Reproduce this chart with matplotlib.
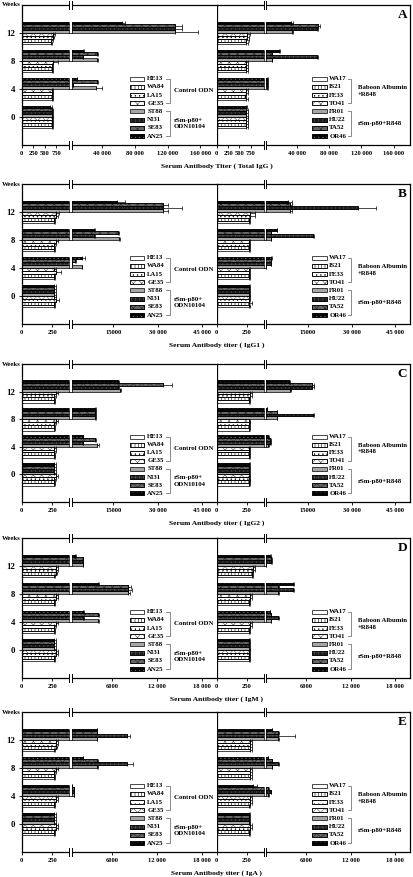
import numpy as np
import matplotlib
matplotlib.use('Agg')
import matplotlib.pyplot as plt
from matplotlib.patches import Rectangle
import matplotlib.transforms as mtransforms

plt.rcParams['font.family'] = ['Liberation Serif', 'DejaVu Serif']
plt.rcParams['font.weight'] = 'bold'
plt.rcParams['hatch.linewidth'] = 0.4

# ---------------- data ----------------
weeks = [0, 4, 8, 12]
week_labels = ['0', '4', '8', '12']
left_animals = ['HE13', 'WA84', 'LA15', 'GE35', 'ST88', 'NI31', 'SE83', 'AN25']
right_animals = ['WA17', 'IS21', 'FE33', 'TO41', 'FR01', 'HU22', 'TA52', 'OR46']
left_groups = ['Control ODN', 'rSm-p80+\nODN10104']
right_groups = ['Baboon Albumin\n+R848', 'rSm-p80+R848']
panel_letters = ['A', 'B', 'C', 'D', 'E']
xlabels = ['Serum Antibody Titer ( Total IgG )', 'Serum Antibody titer ( IgG1 )',
           'Serum Antibody titer ( IgG2 )', 'Serum Antibody titer ( IgM )',
           'Serum Antibody titer ( IgA )']

# axis breaks: lower segment [0, L], upper segment [L, U]
A_ticks = [0, 250, 500, 750, 40000, 80000, 120000, 160000]
A_ticklabels = ['0', '250', '500', '750', '40 000', '80 000', '120 000', '160 000']
BC_ticks = [0, 250, 15000, 30000, 45000]
BC_ticklabels = ['0', '250', '15000', '30 000', '45 000']
DE_ticks = [0, 250, 6000, 12000, 18000]
DE_ticklabels = ['0', '250', '6000', '12 000', '18 000']

# values per animal at weeks 0,4,8,12 ; errors likewise
A_left = [[650, 650, 650, 640], [650, 650, 650, 640], [650, 650, 650, 680], [650, 650, 680, 690],
          [650, 32600, 33200, 129000], [650, 4200, 16500, 129000], [650, 33200, 33200, 129000],
          [620, 8700, 16000, 63800]]
A_left_err = [[40, 30, 40, 20], [40, 30, 40, 30], [30, 30, 40, 30], [40, 30, 100, 40],
              [40, 6500, 1000, 28500], [30, 500, 500, 8000], [40, 1300, 1000, 8000],
              [40, 500, 1200, 4000]]
A_right = [[650, 650, 650, 650], [650, 620, 650, 650], [650, 650, 650, 660], [650, 650, 650, 660],
           [650, 3900, 9300, 34700], [650, 3900, 65800, 65100], [650, 3900, 9300, 66000],
           [640, 3900, 18300, 33100]]
A_right_err = [[30, 30, 30, 40], [30, 30, 30, 50], [40, 40, 40, 50], [40, 40, 40, 80],
               [40, 300, 500, 1500], [40, 300, 500, 1500], [40, 300, 600, 2800],
               [30, 300, 1000, 2800]]

B_left = [[264, 264, 264, 264], [264, 264, 264, 264], [279, 279, 264, 279], [264, 264, 279, 279],
          [264, 4250, 16900, 31900], [264, 850, 8520, 31900], [264, 1960, 16650, 31900],
          [264, 4250, 8520, 16100]]
B_left_err = [[10, 10, 10, 10], [10, 10, 10, 10], [30, 45, 15, 15], [15, 15, 15, 30],
              [15, 200, 300, 1700], [15, 100, 200, 6300], [15, 200, 300, 1700],
              [15, 1000, 200, 2800]]
B_right = [[264, 264, 264, 264], [264, 264, 264, 264], [264, 264, 264, 279], [264, 264, 264, 279],
           [264, 760, 2480, 8970], [264, 2350, 16950, 32300], [264, 2350, 2480, 8970],
           [264, 2480, 4420, 8180]]
B_right_err = [[15, 10, 10, 10], [30, 10, 10, 10], [15, 15, 15, 40], [15, 15, 15, 40],
               [15, 100, 100, 700], [15, 100, 200, 6000], [15, 150, 100, 700],
               [15, 300, 100, 1600]]

C_left = [[264, 264, 264, 264], [264, 264, 264, 264], [264, 264, 264, 264], [279, 264, 279, 279],
          [264, 9450, 8760, 17200], [264, 4580, 8760, 16650], [264, 8760, 8760, 31900],
          [264, 4580, 8760, 16650]]
C_left_err = [[10, 10, 10, 10], [10, 10, 10, 10], [15, 15, 15, 15], [15, 15, 15, 15],
              [15, 500, 400, 500], [15, 100, 200, 200], [15, 200, 200, 2900],
              [15, 100, 200, 300]]
C_right = [[264, 264, 264, 264], [264, 264, 264, 264], [264, 264, 264, 279], [264, 264, 264, 279],
           [264, 1550, 4420, 8970], [264, 2200, 16950, 16400], [264, 2200, 4420, 16400],
           [264, 1550, 1000, 8620]]
C_right_err = [[15, 10, 10, 10], [15, 10, 10, 10], [15, 15, 15, 15], [15, 15, 15, 15],
               [15, 200, 100, 200], [15, 300, 300, 900], [15, 300, 100, 900],
               [15, 200, 100, 200]]

D_left = [[264, 264, 264, 264], [264, 264, 264, 279], [279, 264, 279, 279], [279, 279, 279, 279],
          [264, 4130, 8150, 2040], [264, 2120, 8150, 2040], [264, 4130, 8150, 2040],
          [264, 2120, 4130, 1010]]
D_left_err = [[10, 10, 10, 10], [10, 10, 10, 10], [15, 15, 15, 15], [15, 15, 15, 15],
              [15, 100, 200, 100], [15, 100, 500, 100], [15, 100, 300, 100],
              [15, 100, 100, 100]]
D_right = [[264, 264, 264, 290], [264, 264, 264, 290], [264, 279, 279, 300], [264, 279, 279, 300],
           [264, 1150, 2200, 520], [264, 2200, 4220, 1200], [264, 1150, 2200, 1200],
           [264, 1070, 4220, 1100]]
D_right_err = [[15, 10, 10, 10], [15, 10, 10, 10], [15, 15, 15, 15], [15, 15, 15, 15],
               [15, 50, 50, 50], [15, 50, 100, 100], [15, 50, 50, 100],
               [15, 50, 100, 100]]

E_left = [[264, 264, 264, 264], [264, 264, 264, 279], [279, 279, 264, 279], [279, 279, 279, 279],
          [264, 880, 3950, 3920], [264, 880, 7940, 7940], [264, 880, 3950, 3920],
          [264, 570, 2040, 3920]]
E_left_err = [[10, 10, 10, 10], [10, 10, 10, 10], [15, 15, 15, 15], [15, 15, 15, 15],
              [15, 50, 100, 100], [15, 50, 800, 500], [15, 50, 100, 100],
              [15, 50, 100, 100]]
E_right = [[264, 264, 279, 279], [264, 279, 279, 279], [279, 279, 279, 279], [279, 279, 279, 279],
           [264, 840, 1300, 2200], [264, 1150, 2200, 2200], [264, 840, 1300, 2200],
           [264, 300, 760, 1300]]
E_right_err = [[15, 10, 10, 10], [15, 10, 10, 10], [15, 15, 15, 15], [15, 15, 15, 15],
               [15, 50, 50, 50], [15, 50, 50, 2200], [15, 50, 50, 100],
               [15, 30, 50, 100]]

panels = [
    (A_left, A_left_err, A_right, A_right_err, 1060, 180000, A_ticks, A_ticklabels),
    (B_left, B_left_err, B_right, B_right_err, 400, 50000, BC_ticks, BC_ticklabels),
    (C_left, C_left_err, C_right, C_right_err, 400, 50000, BC_ticks, BC_ticklabels),
    (D_left, D_left_err, D_right, D_right_err, 400, 20000, DE_ticks, DE_ticklabels),
    (E_left, E_left_err, E_right, E_right_err, 400, 20000, DE_ticks, DE_ticklabels),
]

# ---------------- styles ----------------
styles = [  # facecolor, hatch, hatch colour
    ('white', None, None),
    ('white', '|||||', 'black'),
    ('white', '....', 'black'),
    ('white', 'xxxx', '#555555'),
    ('#a6a6a6', None, None),
    ('#1c1c1c', '++++', '#555555'),
    ('#666666', 'xxxx', '#222222'),
    ('#050505', '....', '#666666'),
]
BREAK = 0.25
bar_h = 0.41
FS = 4.9

W, H = 413, 877
fig = plt.figure(figsize=(W / 100, H / 100), dpi=100)
tops = [5, 184, 364, 538, 712]
bots = [145, 324, 502, 678, 852]
xL0, xL1, xR1 = 21.7, 216.7, 410.0


def make_scale(L, U):
    def fwd(v):
        v = np.asarray(v, dtype=float)
        return np.where(v <= L, v / L * BREAK, BREAK + (v - L) / (U - L) * (1 - BREAK))

    def inv(f):
        f = np.asarray(f, dtype=float)
        return np.where(f <= BREAK, f / BREAK * L, L + (f - BREAK) / (1 - BREAK) * (U - L))
    return fwd, inv


def draw_side(ax, vals, errs, L, U, ticks, ticklabels, animals, groups, left_side, width_px):
    fwd, inv = make_scale(L, U)
    ax.set_xscale('function', functions=(fwd, inv))
    ax.set_xlim(0, U)
    ax.set_ylim(-4, 16)
    dx = 1.3 / width_px
    bt = mtransforms.blended_transform_factory(ax.transAxes, ax.transData)
    for i in range(8):
        fc, hatch, hc = styles[i]
        ys = [w + (i - 3.5) * bar_h for w in weeks]
        ax.barh(ys, vals[i], height=bar_h, left=0, color=fc, edgecolor='black',
                linewidth=0.5, zorder=2)
        if hatch:
            ax.barh(ys, vals[i], height=bar_h, left=0, fill=False, hatch=hatch,
                    edgecolor=hc, linewidth=0, zorder=2.1)
            ax.barh(ys, vals[i], height=bar_h, left=0, fill=False, edgecolor='black',
                    linewidth=0.5, zorder=2.2)
        for y, v in zip(ys, vals[i]):
            if v > L:
                ax.add_patch(Rectangle((BREAK - dx, y - bar_h / 2), 2 * dx, bar_h,
                                       transform=bt, facecolor='white', edgecolor='none',
                                       zorder=3))
                for xx in (BREAK - dx, BREAK + dx):
                    ax.plot([xx, xx], [y - bar_h / 2, y + bar_h / 2], transform=bt,
                            color='black', lw=0.5, zorder=3.1)
        ax.errorbar(vals[i], ys, xerr=[[0] * 4, errs[i]], fmt='none', ecolor='black',
                    elinewidth=0.5, capsize=1.4, capthick=0.5, zorder=4)
    # break marks on the frame
    for yy in (0, 1):
        ax.add_patch(Rectangle((BREAK - dx, yy - 0.03), 2 * dx, 0.06, transform=ax.transAxes,
                               facecolor='white', edgecolor='none', clip_on=False, zorder=5))
        for xx in (BREAK - dx, BREAK + dx):
            ax.plot([xx, xx], [yy - 0.03, yy + 0.03], transform=ax.transAxes, color='black',
                    lw=0.7, clip_on=False, zorder=6)
    ax.set_xticks(ticks)
    ax.set_xticklabels(ticklabels)
    ax.xaxis.set_minor_locator(matplotlib.ticker.NullLocator())
    ax.tick_params(axis='x', direction='out', length=2, width=0.6, labelsize=4.7, pad=2.5)
    for s in ax.spines.values():
        s.set_linewidth(0.9)
    # legend
    if left_side:
        bx0, bx1, tx, brx, gx = 0.556, 0.628, 0.644, 0.760, 0.780
    else:
        bx0, bx1, tx, brx, gx = 0.495, 0.569, 0.582, 0.697, 0.731
    ytop, ybot = 0.474, 0.064
    step = (ytop - ybot) / 7
    ph = 0.028
    for i in range(8):
        fc, hatch, hc = styles[i]
        yc = ytop - i * step
        ax.add_patch(Rectangle((bx0, yc - ph / 2), bx1 - bx0, ph, transform=ax.transAxes,
                               facecolor=fc, edgecolor='black', linewidth=0.5, zorder=5))
        if hatch:
            ax.add_patch(Rectangle((bx0, yc - ph / 2), bx1 - bx0, ph, transform=ax.transAxes,
                                   fill=False, hatch=hatch, edgecolor=hc, linewidth=0, zorder=5.1))
            ax.add_patch(Rectangle((bx0, yc - ph / 2), bx1 - bx0, ph, transform=ax.transAxes,
                                   fill=False, edgecolor='black', linewidth=0.5, zorder=5.2))
        ax.text(tx, yc, animals[i], transform=ax.transAxes, fontsize=FS, ha='left',
                va='center', zorder=6)
    for g in range(2):
        y0 = ytop - (4 * g) * step
        y1 = ytop - (4 * g + 3) * step
        ax.plot([brx - 0.02, brx, brx, brx - 0.02], [y0, y0, y1, y1], transform=ax.transAxes,
                color='#777777', lw=0.6, zorder=5)
        ax.text(gx, (y0 + y1) / 2, groups[g], transform=ax.transAxes, fontsize=FS,
                ha='left', va='center', linespacing=1.3, zorder=6, clip_on=False)


for p, (lv, le, rv, re, L, U, ticks, tl) in enumerate(panels):
    top, bot = tops[p], bots[p]
    hfrac = (bot - top) / H
    yfrac = 1 - bot / H
    axL = fig.add_axes([xL0 / W, yfrac, (xL1 - xL0) / W, hfrac])
    axR = fig.add_axes([xL1 / W, yfrac, (xR1 - xL1) / W, hfrac])
    draw_side(axL, lv, le, L, U, ticks, tl, left_animals, left_groups, True, xL1 - xL0)
    draw_side(axR, rv, re, L, U, ticks, tl, right_animals, right_groups, False, xR1 - xL1)
    axL.spines['right'].set_visible(False)
    axL.set_yticks(weeks)
    axL.set_yticklabels(week_labels)
    axL.tick_params(axis='y', direction='out', length=2.5, width=0.6, labelsize=6.3, pad=2)
    axR.set_yticks([])
    axL.text(-0.005, 1.0, 'Weeks', transform=axL.transAxes, fontsize=FS, ha='right',
             va='center')
    axR.text(0.985, 0.93, panel_letters[p], transform=axR.transAxes, fontsize=9.5,
             ha='right', va='center')
    fig.text(xL1 / W, 1 - (bot + 21) / H, xlabels[p], fontsize=5.4, ha='center', va='center')
    # legend texts of left panel overflow onto right axes -> keep on top
    axL.set_zorder(2)
    axR.set_zorder(1)

fig.savefig('out.png', dpi=100)
